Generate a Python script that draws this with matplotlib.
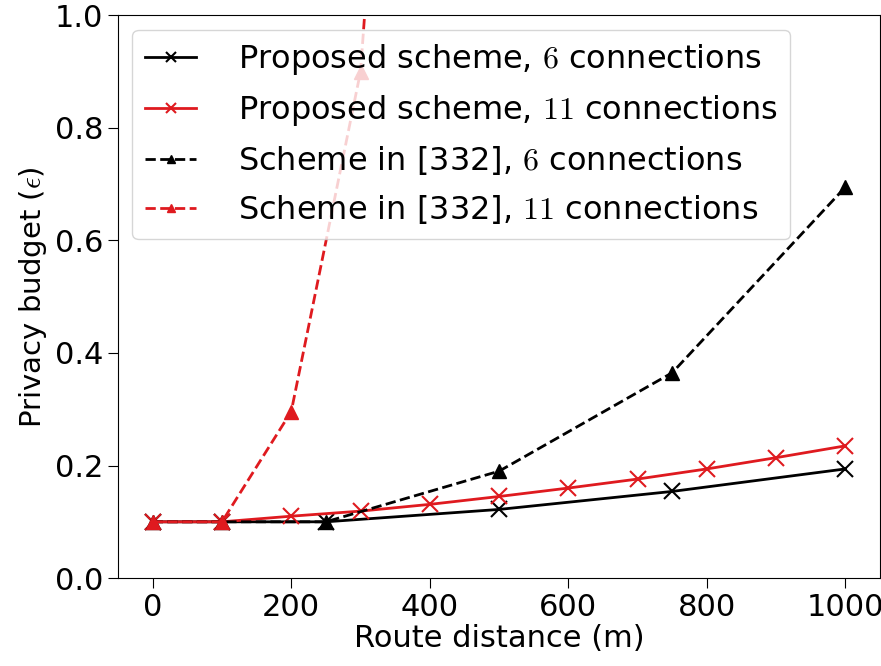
import matplotlib
matplotlib.use("Agg")
import matplotlib.pyplot as plt

plt.rcParams['mathtext.fontset'] = 'cm'
plt.rcParams['font.family'] = 'DejaVu Sans'

# proposed scheme
prop6_x = [0, 100, 250, 500, 750, 1000]
prop6_y = [0.1, 0.1, 0.1, 0.122, 0.154, 0.194]
prop11_x = [0, 100, 200, 300, 400, 500, 600, 700, 800, 900, 1000]
prop11_y = [0.1, 0.1, 0.11, 0.119, 0.131, 0.145, 0.16, 0.176, 0.194, 0.214, 0.235]

# scheme in [332]
ref6_x = [0, 100, 250, 500, 750, 1000]
ref6_y = [0.1, 0.1, 0.1, 0.19, 0.365, 0.695]
ref11_x = [0, 100, 200, 300, 400]
ref11_y = [0.1, 0.1, 0.296, 0.9, 2.6]

red = '#df1a1f'

fig = plt.figure(figsize=(8.81, 6.66), dpi=100)
ax = fig.add_axes([0.134, 0.132, 0.865, 0.845])

ax.plot(prop6_x, prop6_y, '-x', color='black', lw=2, ms=11, mew=1.5,
        label='Proposed scheme, $6$ connections')
ax.plot(prop11_x, prop11_y, '-x', color=red, lw=2, ms=11, mew=1.5,
        label='Proposed scheme, $11$ connections')
ax.plot(ref6_x, ref6_y, '--^', color='black', lw=2, ms=10,
        label='Scheme in [332], $6$ connections')
ax.plot(ref11_x, ref11_y, '--^', color=red, lw=2, ms=10,
        label='Scheme in [332], $11$ connections')

ax.set_xlim(-50, 1050)
ax.set_ylim(0, 1.0)
ax.set_xticks([0, 200, 400, 600, 800, 1000])
ax.set_yticks([0.0, 0.2, 0.4, 0.6, 0.8, 1.0])
ax.tick_params(labelsize=22, length=7)
ax.set_xlabel('Route distance (m)', fontsize=22, labelpad=2)
ax.set_ylabel(r'Privacy budget ($\epsilon$)', fontsize=21)
ax.legend(loc='upper left', fontsize=23, handlelength=1.6, handletextpad=1.3,
          markerscale=0.6, labelspacing=0.5, borderaxespad=0.45)

fig.savefig('out.png', dpi=100)
